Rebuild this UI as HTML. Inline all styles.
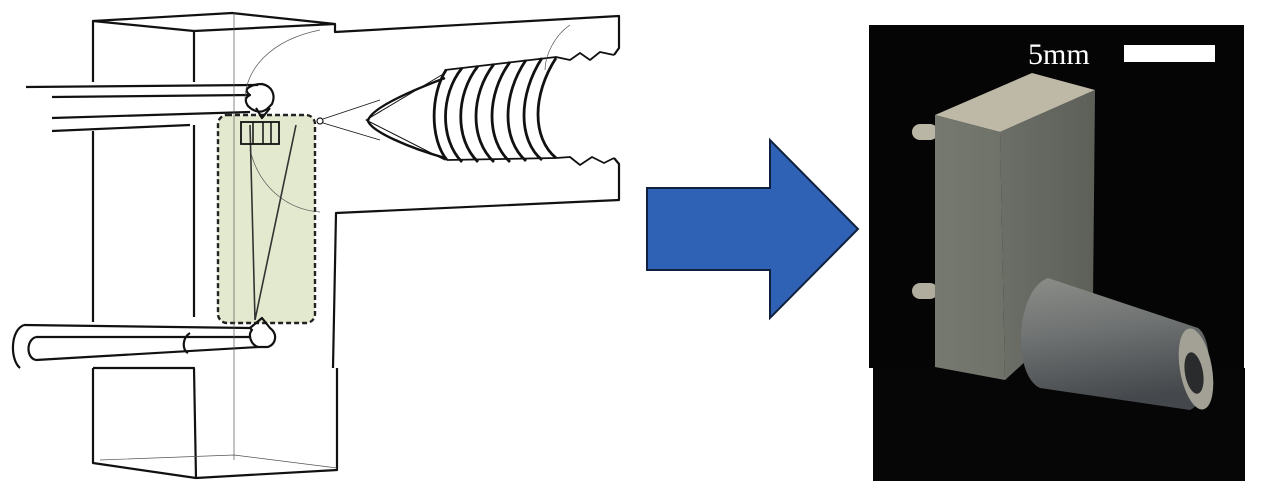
<!DOCTYPE html>
<html><head><meta charset="utf-8"><style>
html,body{margin:0;padding:0;background:#fff;width:1265px;height:502px;overflow:hidden}
svg{display:block}
</style></head><body>
<svg width="1265" height="502" viewBox="0 0 1265 502" xmlns="http://www.w3.org/2000/svg">
<defs>
<linearGradient id="front" x1="0" y1="0" x2="1" y2="0"><stop offset="0" stop-color="#767970"/><stop offset="1" stop-color="#6f7269"/></linearGradient>
<linearGradient id="side" x1="0" y1="0" x2="1" y2="0"><stop offset="0" stop-color="#6c6f67"/><stop offset="1" stop-color="#5d6058"/></linearGradient>
<linearGradient id="cyl" x1="0" y1="0" x2="0.2" y2="1"><stop offset="0" stop-color="#8a8d87"/><stop offset="0.45" stop-color="#6f7272"/><stop offset="1" stop-color="#44474b"/></linearGradient>
</defs>
<g fill="none" stroke="#111" stroke-width="2.2" stroke-linejoin="round">
<rect x="218" y="115" width="97" height="208" rx="9" fill="#e3e9cf" stroke="#222" stroke-width="2.4" stroke-dasharray="5,3"/>
<path d="M93,82 L93,21 L232,13 L335,24 L194,31 L194,82"/>
<path d="M93,21 L194,31"/>
<path d="M335,24 L335,32 L619,16 L619,48 L614,55"/>
<path d="M614,158 L619,164 L619,200 L336,213 L333,368"/>
<path d="M93,131 L93,322"/>
<path d="M194,125 L194,317"/>
<path d="M26,87 L258,85"/>
<path d="M52,97 L250,95"/>
<path d="M52,118 L250,112"/>
<path d="M52,131 L190,125"/>
<path d="M250,95 C240,88 255,84 262,84 C272,86 276,95 272,104 L268,108 C262,114 254,112 248,106 C244,100 246,97 250,95 Z"/>
<path d="M256,108 L262,118 L270,108"/>
<path d="M24,325 L250,328"/>
<path d="M36,337 L250,337"/>
<path d="M36,360 L258,347"/>
<path d="M24,325 C10,330 10,360 20,368"/>
<path d="M36,337 C26,340 26,358 36,360"/>
<path d="M190,333 C182,338 182,350 188,353"/>
<path d="M250,328 L262,318 L270,328 C278,334 276,344 268,347 L258,347 C250,344 248,334 252,330 Z"/>
<path d="M93,368 L93,463 L196,478 L337,470 L337,368"/>
<path d="M93,368 L194,368 L196,478"/>
<path d="M445,73 L366,120 L445,160" stroke-width="1"/>
<path d="M445,78 C400,95 370,110 368,121 C372,132 410,148 445,158" stroke-width="2.4"/>
<circle cx="320" cy="121" r="3" stroke-width="1.2"/>
<path d="M323,119 L380,100 M323,123 L380,140" stroke-width="0.8"/>
<g stroke-width="2.8">
<path d="M446,70 C430,95 430,140 447,160"/>
<path d="M462,68 C440,95 440,140 462,162"/>
<path d="M478,66 C455,95 455,140 478,162"/>
<path d="M494,64 C470,95 470,140 494,162"/>
<path d="M510,62 C486,95 486,140 510,162"/>
<path d="M526,60 C502,95 502,140 526,161"/>
<path d="M542,58 C518,95 518,140 542,160"/>
<path d="M556,58 C532,95 532,138 556,158"/>
</g>
<path d="M445,70 L556,57 L570,60 L580,53 L590,60 L600,52 L614,55" stroke-width="1.8"/>
<path d="M447,160 L556,158 L570,157 L580,165 L592,157 L604,163 L614,158" stroke-width="1.8"/>
</g>
<g fill="none" stroke="#555" stroke-width="0.7">
<line x1="234" y1="13" x2="234" y2="460"/>
<path d="M320,30 C270,40 245,70 245,100"/>
<path d="M250,150 C260,190 290,210 320,212"/>
<path d="M570,25 C555,35 545,55 545,70"/>
<path d="M100,460 L234,455 L337,468"/>
<path d="M250,125 L255,320 M296,125 L255,320" stroke="#333" stroke-width="1.6"/>
<rect x="241" y="122" width="38" height="22" stroke="#111" stroke-width="1.8"/>
<path d="M253,122 V144 M263,122 V144 M271,122 V144" stroke="#111" stroke-width="1.5"/>
</g>
<path d="M647,188 L770,188 L770,140 L858,229 L770,318 L770,270 L647,270 Z" fill="#2f62b5" stroke="#10213f" stroke-width="2"/>
<rect x="869" y="25" width="375" height="343" fill="#050505"/>
<rect x="873" y="368" width="372" height="113" fill="#060606"/>
<rect x="912" y="124" width="26" height="16" rx="8" fill="#b9b6a5"/>
<rect x="912" y="283" width="26" height="16" rx="8" fill="#b0ad9e"/>
<polygon points="935,115 1032,73 1095,90 1000,132" fill="#bdb9a6"/>
<polygon points="935,115 1000,132 1005,380 935,367" fill="url(#front)"/>
<polygon points="1000,132 1095,90 1093,300 1005,380" fill="url(#side)"/>
<path d="M1048,278 L1198,328 C1215,340 1212,400 1190,410 L1040,388 C1012,375 1015,290 1048,278 Z" fill="url(#cyl)"/>
<ellipse cx="1196" cy="369" rx="16" ry="41" transform="rotate(-10 1196 369)" fill="#a3a195"/>
<ellipse cx="1194" cy="373" rx="9" ry="21" transform="rotate(-10 1194 373)" fill="#2a2b2c"/>
<text x="1028" y="64" font-family="Liberation Serif, serif" font-size="30" fill="#fff">5mm</text>
<rect x="1124" y="45" width="91" height="17" fill="#fff"/>
</svg>
</body></html>
